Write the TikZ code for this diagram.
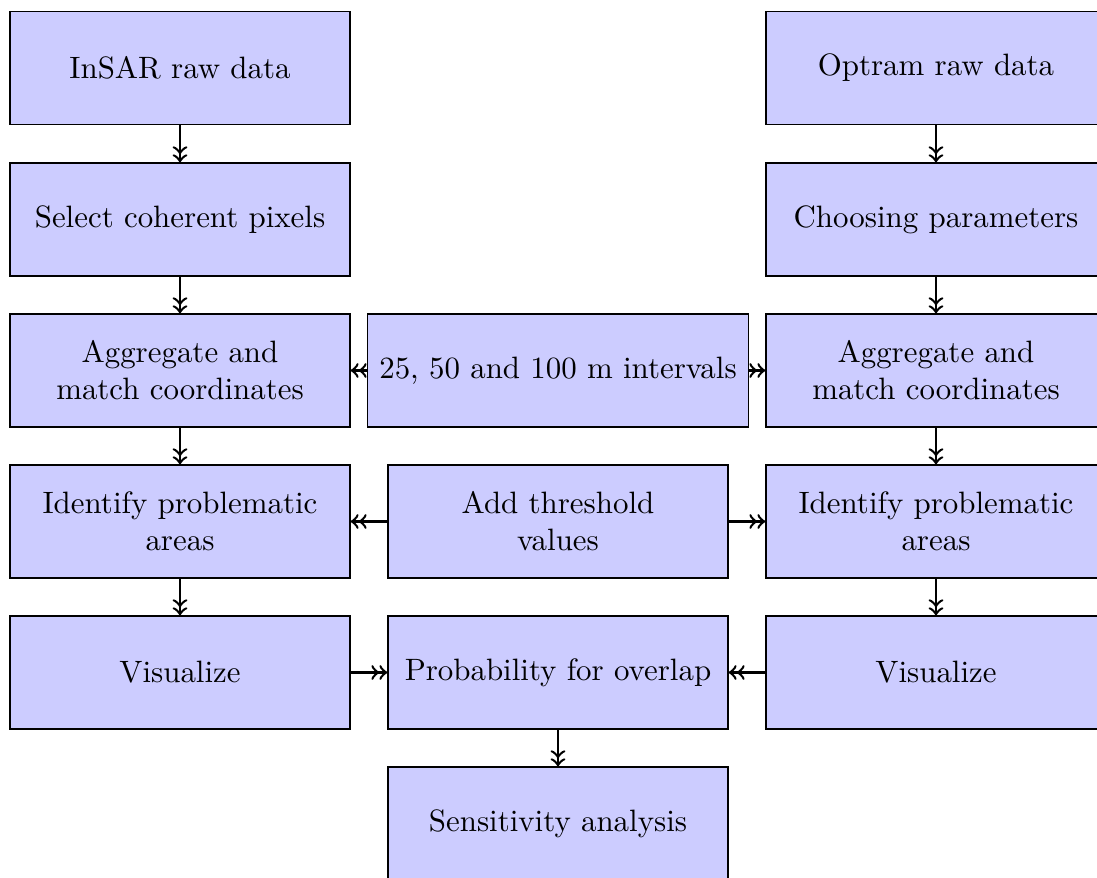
\documentclass[tikz,border=0pt]{standalone}
\begin{document}
\begin{tikzpicture}[x=0.3236pt,y=-0.3236pt,
  box/.style={draw, fill=blue!20, minimum width=110pt, minimum height=36.6pt, align=center, inner sep=3.33pt},
  widebox/.style={draw, fill=blue!20, minimum height=36.6pt, align=center, inner sep=3.8pt},
  arr/.style={->>, thick}]
\useasboundingbox (0,0) rectangle (1097,878);
\node[box] (a1) at (180,68) {InSAR raw data};
\node[box] (a2) at (180,219.5) {Select coherent pixels};
\node[box] (a3) at (180,370.5) {Aggregate and\\match coordinates};
\node[box] (a4) at (180,521.5) {Identify problematic\\areas};
\node[box] (a5) at (180,672.5) {Visualize};
\node[box] (b1) at (936,68) {Optram raw data};
\node[box] (b2) at (936,219.5) {Choosing parameters};
\node[box] (b3) at (936,370.5) {Aggregate and\\match coordinates};
\node[box] (b4) at (936,521.5) {Identify problematic\\areas};
\node[box] (b5) at (936,672.5) {Visualize};
\node[widebox] (m3) at (558,370.5) {25, 50 and 100 m intervals};
\node[box] (m4) at (558,521.5) {Add threshold\\values};
\node[box] (m5) at (558,672.5) {Probability for overlap};
\node[box] (m6) at (558,823.5) {Sensitivity analysis};
\draw[arr] (a1) -- (a2);
\draw[arr] (a2) -- (a3);
\draw[arr] (a3) -- (a4);
\draw[arr] (a4) -- (a5);
\draw[arr] (b1) -- (b2);
\draw[arr] (b2) -- (b3);
\draw[arr] (b3) -- (b4);
\draw[arr] (b4) -- (b5);
\draw[arr] (m3) -- (a3);
\draw[arr] (m3) -- (b3);
\draw[arr] (m4) -- (a4);
\draw[arr] (m4) -- (b4);
\draw[arr] (a5) -- (m5);
\draw[arr] (b5) -- (m5);
\draw[arr] (m5) -- (m6);
\end{tikzpicture}
\end{document}
